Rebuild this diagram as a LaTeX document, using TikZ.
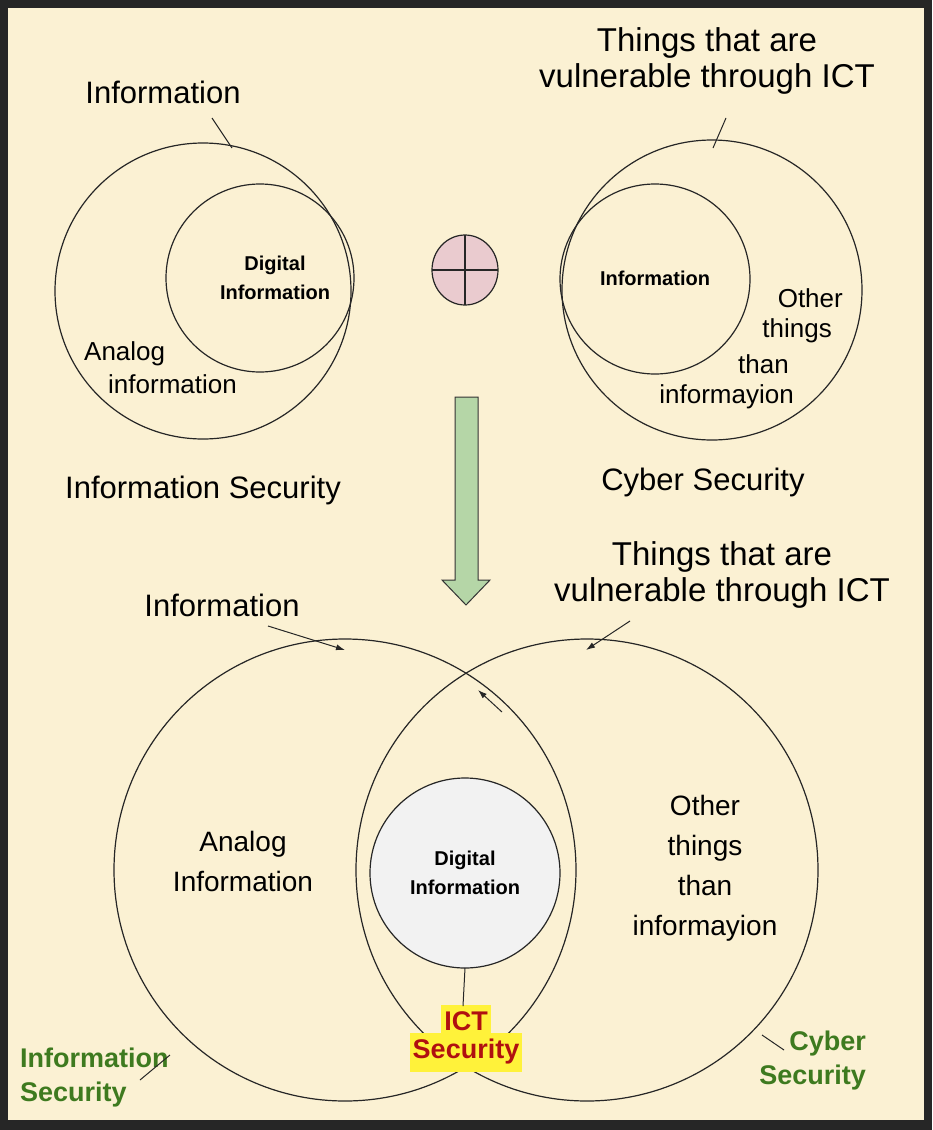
\documentclass[tikz,border=0pt]{standalone}
\usepackage{fontspec}
\setmainfont{Liberation Sans}
\usetikzlibrary{arrows.meta}
\definecolor{bg}{HTML}{FBF1D3}
\definecolor{pinkc}{HTML}{EACBCF}
\definecolor{greenc}{HTML}{B5D6A7}
\definecolor{darkg}{HTML}{3E7A1F}
\definecolor{redt}{HTML}{B01010}
\definecolor{hl}{HTML}{FFF23A}
\tikzset{x=1pt,y=-1pt,
 ring/.style={draw=black!85,line width=1.2pt},
 lbl/.style={font=\fontsize{31}{34}\selectfont,align=center,inner sep=0pt},
 title/.style={font=\fontsize{33}{36}\selectfont,align=center,inner sep=0pt},
 small/.style={font=\fontsize{26}{33}\selectfont,align=center,inner sep=0pt},
 boldl/.style={font=\bfseries\fontsize{20}{29}\selectfont,align=center,inner sep=0pt},
 big/.style={font=\fontsize{28}{40}\selectfont,align=center,inner sep=0pt},
 green/.style={font=\bfseries\fontsize{27}{34}\selectfont,text=darkg,inner sep=0pt},
 lead/.style={draw=black!85,line width=1pt},
 leada/.style={lead,-{Latex[length=9pt,width=6pt]}}}
\begin{document}
\begin{tikzpicture}
\fill[black!85] (0,0) rectangle (932,1130);
\fill[bg] (8,8) rectangle (924,1120);
\useasboundingbox (0,0) rectangle (932,1130);
% top left
\draw[ring] (203,291) circle[radius=148];
\draw[ring] (260,278) circle[radius=94];
\node[lbl] (info1) at (163,92) {Information};
\coordinate (c1) at (232,148);
\draw[lead] (212,118) -- (c1);
\node[boldl] (dig1) at (275,278) {Digital\\Information};
\node[small,align=left,anchor=west] (an1) at (84,368) {Analog\\\hspace*{24pt}information};
\node[lbl] (is1) at (203,490) {Information Security};
% operator
\path[draw=black!85,line width=1.2pt,fill=pinkc] (465,270) ellipse[x radius=33,y radius=35];
\draw[black!85,line width=1.2pt] (432,270) -- (498,270) (465,235) -- (465,305);
% top right
\draw[ring] (712,290) circle[radius=150];
\draw[ring] (655,279) circle[radius=95];
\node[title] (thing1) at (707,61) {Things that are\\vulnerable through ICT};
\coordinate (c2) at (713,148);
\draw[lead] (726,118) -- (c2);
\node[boldl] (inf2) at (655,278) {Information};
\node[small,anchor=east] at (843,298) {Other};
\node[small,anchor=east] at (832,331) {things};
\node[small,anchor=east] at (789,364) {than};
\node[small,anchor=east] at (794,397) {informayion};
\node[lbl] (cs1) at (703,482) {Cyber Security};
% arrow
\draw[black!80,line width=1pt,fill=greenc] (455,397) -- (478,397) -- (478,580) -- (490,580) -- (466,605) -- (442,580) -- (455,580) -- cycle;
% bottom
\draw[ring] (345,870) circle[radius=231];
\draw[ring] (587,870) circle[radius=231];
\draw[ring,fill=black!5] (465,873) circle[radius=95];
\node[boldl] (dig2) at (465,873) {Digital\\Information};
\node[lbl] (info2) at (222,605) {Information};
\coordinate (t1) at (345,650);
\draw[leada] (268,626) -- (t1);
\node[title] (thing2) at (722,575) {Things that are\\vulnerable through ICT};
\coordinate (t2) at (586,650);
\draw[leada] (630,621) -- (t2);
\draw[leada] (502,712) -- (478,690);
\node[big] at (243,861) {Analog\\Information};
\node[big] at (705,868) {Other\\things\\than\\informayion};
\node[inner sep=0pt,align=center,font=\bfseries\fontsize{27}{33}\selectfont,text=redt] (ict) at (466,1038) {\colorbox{hl}{\strut ICT}\\[-12pt]\colorbox{hl}{\strut Security}};
\draw[lead] (465,968) -- (463,1006);
\node[green,align=left,anchor=west] (is2) at (20,1078) {Information\\Security};
\draw[lead] (140,1080) -- (170,1055);
\node[green,align=right,anchor=east] (cs2) at (866,1061) {Cyber\\Security};
\draw[lead] (762,1035) -- (784,1050);
\end{tikzpicture}
\end{document}
